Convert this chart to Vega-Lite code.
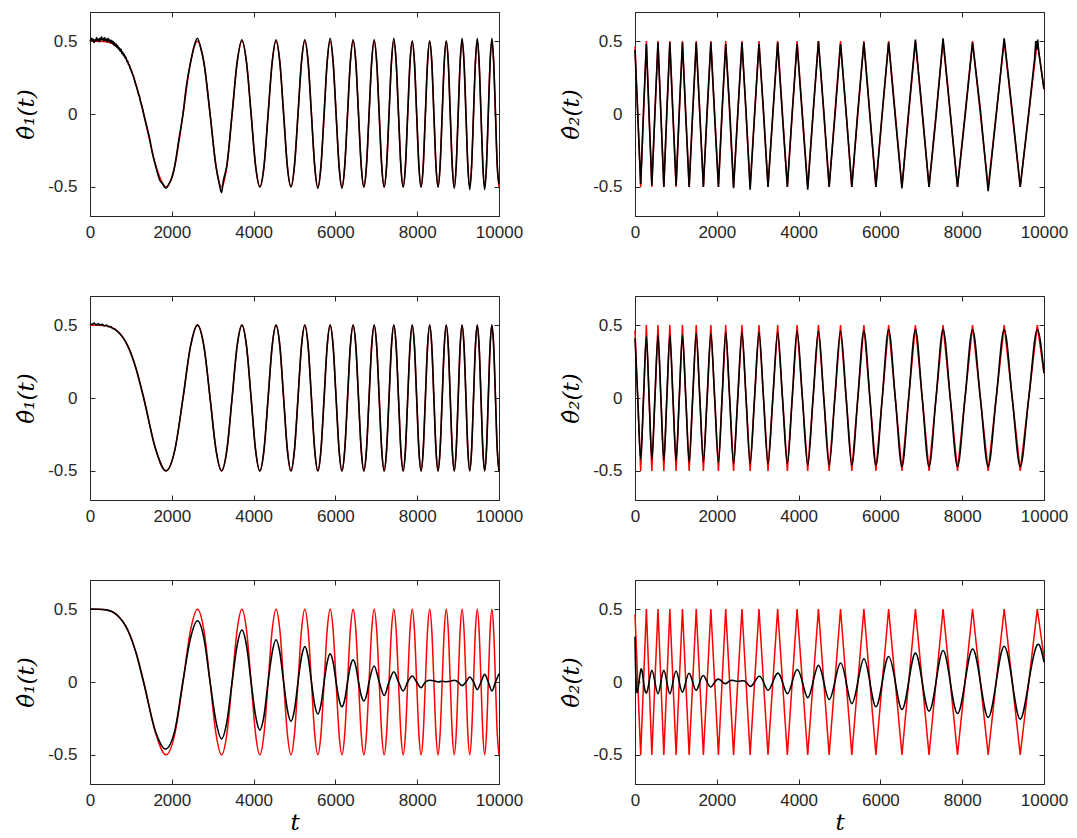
{
  "$schema": "https://vega.github.io/schema/vega-lite/v6.json",
  "background": "white",
  "padding": {"left": 15, "top": 11, "right": 5, "bottom": 5},
  "columns": 2,
  "spacing": {"row": 80, "column": 136},
  "bounds": "flush",
  "config": {
    "view": {"stroke": "#262626", "strokeWidth": 1},
    "axis": {"grid": false, "domainColor": "#262626", "tickColor": "#262626", "labelColor": "#262626", "labelFont": "Liberation Sans", "labelFontSize": 17, "labelFlush": false, "tickSize": -5, "tickWidth": 1, "titleFont": "DejaVu Serif", "titleFontStyle": "italic", "titleFontWeight": "normal", "titleFontSize": 23, "titleColor": "#000000"},
    "axisBottom": {"labelPadding": 13, "titlePadding": 3},
    "axisLeft": {"labelPadding": 18, "titlePadding": 9}
  },
  "datasets": {
    "Lr": [{"t":0,"v":0.5},{"t":200,"v":0.499},{"t":400,"v":0.495},{"t":650,"v":0.463},{"t":929,"v":0.354},{"t":1130,"v":0.198},{"t":1313,"v":0},{"t":1608,"v":-0.354},{"t":1857,"v":-0.5},{"t":2076,"v":-0.354},{"t":2274,"v":0},{"t":2457,"v":0.354},{"t":2626,"v":0.5},{"t":2786,"v":0.354},{"t":2936,"v":0},{"t":3080,"v":-0.354},{"t":3216,"v":-0.5},{"t":3348,"v":-0.354},{"t":3474,"v":0},{"t":3596,"v":0.354},{"t":3714,"v":0.5},{"t":3828,"v":0.354},{"t":3939,"v":0},{"t":4047,"v":-0.354},{"t":4152,"v":-0.5},{"t":4255,"v":-0.354},{"t":4355,"v":0},{"t":4453,"v":0.354},{"t":4549,"v":0.5},{"t":4643,"v":0.354},{"t":4734,"v":0},{"t":4825,"v":-0.354},{"t":4913,"v":-0.5},{"t":5000,"v":-0.354},{"t":5086,"v":0},{"t":5170,"v":0.354},{"t":5252,"v":0.5},{"t":5334,"v":0.354},{"t":5414,"v":0},{"t":5493,"v":-0.354},{"t":5571,"v":-0.5},{"t":5648,"v":-0.354},{"t":5724,"v":0},{"t":5798,"v":0.354},{"t":5872,"v":0.5},{"t":5945,"v":0.354},{"t":6017,"v":0},{"t":6089,"v":-0.354},{"t":6159,"v":-0.5},{"t":6229,"v":-0.354},{"t":6297,"v":0},{"t":6365,"v":0.354},{"t":6433,"v":0.5},{"t":6500,"v":0.354},{"t":6565,"v":0},{"t":6631,"v":-0.354},{"t":6696,"v":-0.5},{"t":6760,"v":-0.354},{"t":6823,"v":0},{"t":6886,"v":0.354},{"t":6948,"v":0.5},{"t":7010,"v":0.354},{"t":7071,"v":0},{"t":7132,"v":-0.354},{"t":7192,"v":-0.5},{"t":7252,"v":-0.354},{"t":7311,"v":0},{"t":7370,"v":0.354},{"t":7428,"v":0.5},{"t":7486,"v":0.354},{"t":7543,"v":0},{"t":7600,"v":-0.354},{"t":7657,"v":-0.5},{"t":7713,"v":-0.354},{"t":7768,"v":0},{"t":7824,"v":0.354},{"t":7879,"v":0.5},{"t":7933,"v":0.354},{"t":7987,"v":0},{"t":8041,"v":-0.354},{"t":8094,"v":-0.5},{"t":8148,"v":-0.354},{"t":8200,"v":0},{"t":8253,"v":0.354},{"t":8305,"v":0.5},{"t":8357,"v":0.354},{"t":8408,"v":0},{"t":8459,"v":-0.354},{"t":8510,"v":-0.5},{"t":8560,"v":-0.354},{"t":8611,"v":0},{"t":8661,"v":0.354},{"t":8710,"v":0.5},{"t":8760,"v":0.354},{"t":8808,"v":0},{"t":8857,"v":-0.354},{"t":8906,"v":-0.5},{"t":8954,"v":-0.354},{"t":9002,"v":0},{"t":9050,"v":0.354},{"t":9097,"v":0.5},{"t":9145,"v":0.354},{"t":9192,"v":0},{"t":9238,"v":-0.354},{"t":9285,"v":-0.5},{"t":9331,"v":-0.354},{"t":9377,"v":0},{"t":9423,"v":0.354},{"t":9469,"v":0.5},{"t":9514,"v":0.354},{"t":9560,"v":0},{"t":9605,"v":-0.354},{"t":9649,"v":-0.5},{"t":9694,"v":-0.354},{"t":9738,"v":0},{"t":9782,"v":0.354},{"t":9826,"v":0.5},{"t":9870,"v":0.354},{"t":9914,"v":0},{"t":9957,"v":-0.354},{"t":10000,"v":-0.5}],
    "L1": [{"t":0,"v":0.51},{"t":20,"v":0.5},{"t":40,"v":0.52},{"t":60,"v":0.505},{"t":80,"v":0.515},{"t":100,"v":0.49},{"t":120,"v":0.51},{"t":140,"v":0.5},{"t":160,"v":0.525},{"t":180,"v":0.505},{"t":200,"v":0.515},{"t":220,"v":0.495},{"t":240,"v":0.52},{"t":260,"v":0.505},{"t":280,"v":0.53},{"t":300,"v":0.51},{"t":320,"v":0.52},{"t":340,"v":0.5},{"t":360,"v":0.525},{"t":380,"v":0.505},{"t":400,"v":0.515},{"t":420,"v":0.495},{"t":440,"v":0.52},{"t":460,"v":0.5},{"t":480,"v":0.51},{"t":500,"v":0.49},{"t":520,"v":0.505},{"t":540,"v":0.485},{"t":560,"v":0.5},{"t":580,"v":0.475},{"t":600,"v":0.49},{"t":620,"v":0.465},{"t":640,"v":0.48},{"t":660,"v":0.455},{"t":680,"v":0.47},{"t":700,"v":0.445},{"t":720,"v":0.455},{"t":740,"v":0.43},{"t":760,"v":0.445},{"t":780,"v":0.415},{"t":800,"v":0.425},{"t":820,"v":0.4},{"t":840,"v":0.41},{"t":860,"v":0.385},{"t":880,"v":0.39},{"t":900,"v":0.36},{"t":920,"v":0.365},{"t":940,"v":0.34},{"t":960,"v":0.335},{"t":980,"v":0.315},{"t":1000,"v":0.305},{"t":1030,"v":0.28},{"t":1060,"v":0.26},{"t":1090,"v":0.23},{"t":1120,"v":0.2},{"t":1150,"v":0.175},{"t":1180,"v":0.14},{"t":1210,"v":0.12},{"t":1240,"v":0.08},{"t":1270,"v":0.055},{"t":1313,"v":0},{"t":1400,"v":-0.1},{"t":1460,"v":-0.17},{"t":1520,"v":-0.26},{"t":1608,"v":-0.36},{"t":1700,"v":-0.45},{"t":1780,"v":-0.48},{"t":1857,"v":-0.51},{"t":1930,"v":-0.48},{"t":2000,"v":-0.44},{"t":2076,"v":-0.35},{"t":2170,"v":-0.18},{"t":2274,"v":0},{"t":2360,"v":0.2},{"t":2457,"v":0.35},{"t":2550,"v":0.47},{"t":2626,"v":0.52},{"t":2700,"v":0.46},{"t":2786,"v":0.35},{"t":2936,"v":0},{"t":3080,"v":-0.36},{"t":3160,"v":-0.48},{"t":3216,"v":-0.54},{"t":3260,"v":-0.46},{"t":3348,"v":-0.35},{"t":3474,"v":0},{"t":3596,"v":0.35},{"t":3714,"v":0.51},{"t":3828,"v":0.35},{"t":3939,"v":0},{"t":4047,"v":-0.35},{"t":4152,"v":-0.5},{"t":4255,"v":-0.36},{"t":4355,"v":0},{"t":4453,"v":0.35},{"t":4549,"v":0.51},{"t":4643,"v":0.35},{"t":4734,"v":0},{"t":4825,"v":-0.36},{"t":4913,"v":-0.5},{"t":5000,"v":-0.35},{"t":5086,"v":0},{"t":5170,"v":0.354},{"t":5252,"v":0.51},{"t":5334,"v":0.354},{"t":5414,"v":0},{"t":5493,"v":-0.354},{"t":5571,"v":-0.51},{"t":5648,"v":-0.354},{"t":5724,"v":0},{"t":5798,"v":0.354},{"t":5872,"v":0.52},{"t":5945,"v":0.354},{"t":6017,"v":0},{"t":6089,"v":-0.354},{"t":6159,"v":-0.51},{"t":6229,"v":-0.354},{"t":6297,"v":0},{"t":6365,"v":0.354},{"t":6433,"v":0.51},{"t":6500,"v":0.354},{"t":6565,"v":0},{"t":6631,"v":-0.354},{"t":6696,"v":-0.5},{"t":6760,"v":-0.354},{"t":6823,"v":0},{"t":6886,"v":0.354},{"t":6948,"v":0.51},{"t":7010,"v":0.354},{"t":7071,"v":0},{"t":7132,"v":-0.354},{"t":7192,"v":-0.5},{"t":7252,"v":-0.354},{"t":7311,"v":0},{"t":7370,"v":0.354},{"t":7428,"v":0.52},{"t":7486,"v":0.354},{"t":7543,"v":0},{"t":7600,"v":-0.354},{"t":7657,"v":-0.5},{"t":7713,"v":-0.354},{"t":7768,"v":0},{"t":7824,"v":0.354},{"t":7879,"v":0.5},{"t":7933,"v":0.354},{"t":7987,"v":0},{"t":8041,"v":-0.354},{"t":8094,"v":-0.5},{"t":8148,"v":-0.354},{"t":8200,"v":0},{"t":8253,"v":0.354},{"t":8305,"v":0.5},{"t":8357,"v":0.354},{"t":8408,"v":0},{"t":8459,"v":-0.354},{"t":8510,"v":-0.5},{"t":8560,"v":-0.354},{"t":8611,"v":0},{"t":8661,"v":0.354},{"t":8710,"v":0.5},{"t":8760,"v":0.354},{"t":8808,"v":0},{"t":8857,"v":-0.354},{"t":8906,"v":-0.51},{"t":8954,"v":-0.354},{"t":9002,"v":0},{"t":9050,"v":0.354},{"t":9097,"v":0.52},{"t":9145,"v":0.354},{"t":9192,"v":0},{"t":9238,"v":-0.354},{"t":9285,"v":-0.52},{"t":9331,"v":-0.354},{"t":9377,"v":0},{"t":9423,"v":0.354},{"t":9469,"v":0.52},{"t":9514,"v":0.354},{"t":9560,"v":0},{"t":9605,"v":-0.354},{"t":9649,"v":-0.52},{"t":9694,"v":-0.354},{"t":9738,"v":0},{"t":9782,"v":0.354},{"t":9826,"v":0.52},{"t":9870,"v":0.354},{"t":9914,"v":0},{"t":9957,"v":-0.354},{"t":10000,"v":-0.48}],
    "L2": [{"t":0,"v":0.51},{"t":50,"v":0.505},{"t":100,"v":0.515},{"t":150,"v":0.5},{"t":200,"v":0.51},{"t":250,"v":0.5},{"t":300,"v":0.505},{"t":350,"v":0.495},{"t":400,"v":0.5},{"t":450,"v":0.49},{"t":500,"v":0.49},{"t":550,"v":0.478},{"t":600,"v":0.474},{"t":650,"v":0.462},{"t":700,"v":0.45},{"t":800,"v":0.418},{"t":929,"v":0.354},{"t":1130,"v":0.198},{"t":1313,"v":0},{"t":1608,"v":-0.354},{"t":1857,"v":-0.5},{"t":2076,"v":-0.354},{"t":2274,"v":0},{"t":2457,"v":0.354},{"t":2626,"v":0.5},{"t":2786,"v":0.354},{"t":2936,"v":0},{"t":3080,"v":-0.354},{"t":3216,"v":-0.5},{"t":3348,"v":-0.354},{"t":3474,"v":0},{"t":3596,"v":0.354},{"t":3714,"v":0.5},{"t":3828,"v":0.354},{"t":3939,"v":0},{"t":4047,"v":-0.354},{"t":4152,"v":-0.5},{"t":4255,"v":-0.354},{"t":4355,"v":0},{"t":4453,"v":0.354},{"t":4549,"v":0.5},{"t":4643,"v":0.354},{"t":4734,"v":0},{"t":4825,"v":-0.354},{"t":4913,"v":-0.5},{"t":5000,"v":-0.354},{"t":5086,"v":0},{"t":5170,"v":0.354},{"t":5252,"v":0.5},{"t":5334,"v":0.354},{"t":5414,"v":0},{"t":5493,"v":-0.354},{"t":5571,"v":-0.5},{"t":5648,"v":-0.354},{"t":5724,"v":0},{"t":5798,"v":0.354},{"t":5872,"v":0.5},{"t":5945,"v":0.354},{"t":6017,"v":0},{"t":6089,"v":-0.354},{"t":6159,"v":-0.5},{"t":6229,"v":-0.354},{"t":6297,"v":0},{"t":6365,"v":0.354},{"t":6433,"v":0.5},{"t":6500,"v":0.354},{"t":6565,"v":0},{"t":6631,"v":-0.354},{"t":6696,"v":-0.5},{"t":6760,"v":-0.354},{"t":6823,"v":0},{"t":6886,"v":0.354},{"t":6948,"v":0.5},{"t":7010,"v":0.354},{"t":7071,"v":0},{"t":7132,"v":-0.354},{"t":7192,"v":-0.5},{"t":7252,"v":-0.354},{"t":7311,"v":0},{"t":7370,"v":0.354},{"t":7428,"v":0.5},{"t":7486,"v":0.354},{"t":7543,"v":0},{"t":7600,"v":-0.354},{"t":7657,"v":-0.5},{"t":7713,"v":-0.354},{"t":7768,"v":0},{"t":7824,"v":0.354},{"t":7879,"v":0.5},{"t":7933,"v":0.354},{"t":7987,"v":0},{"t":8041,"v":-0.354},{"t":8094,"v":-0.5},{"t":8148,"v":-0.354},{"t":8200,"v":0},{"t":8253,"v":0.354},{"t":8305,"v":0.5},{"t":8357,"v":0.354},{"t":8408,"v":0},{"t":8459,"v":-0.354},{"t":8510,"v":-0.5},{"t":8560,"v":-0.354},{"t":8611,"v":0},{"t":8661,"v":0.354},{"t":8710,"v":0.5},{"t":8760,"v":0.354},{"t":8808,"v":0},{"t":8857,"v":-0.354},{"t":8906,"v":-0.5},{"t":8954,"v":-0.354},{"t":9002,"v":0},{"t":9050,"v":0.354},{"t":9097,"v":0.5},{"t":9145,"v":0.354},{"t":9192,"v":0},{"t":9238,"v":-0.354},{"t":9285,"v":-0.5},{"t":9331,"v":-0.354},{"t":9377,"v":0},{"t":9423,"v":0.354},{"t":9469,"v":0.5},{"t":9514,"v":0.354},{"t":9560,"v":0},{"t":9605,"v":-0.354},{"t":9649,"v":-0.5},{"t":9694,"v":-0.354},{"t":9738,"v":0},{"t":9782,"v":0.354},{"t":9826,"v":0.5},{"t":9870,"v":0.354},{"t":9914,"v":0},{"t":9957,"v":-0.354},{"t":10000,"v":-0.5}],
    "L3": [{"t":0,"v":0.5},{"t":200,"v":0.499},{"t":400,"v":0.495},{"t":650,"v":0.462},{"t":929,"v":0.352},{"t":1130,"v":0.195},{"t":1313,"v":-0.005},{"t":1608,"v":-0.345},{"t":1845,"v":-0.46},{"t":2076,"v":-0.33},{"t":2270,"v":0},{"t":2457,"v":0.3},{"t":2626,"v":0.42},{"t":2786,"v":0.3},{"t":2936,"v":0},{"t":3080,"v":-0.27},{"t":3216,"v":-0.39},{"t":3348,"v":-0.27},{"t":3474,"v":0},{"t":3596,"v":0.25},{"t":3714,"v":0.357},{"t":3828,"v":0.25},{"t":3939,"v":0},{"t":4047,"v":-0.23},{"t":4152,"v":-0.33},{"t":4255,"v":-0.23},{"t":4355,"v":0},{"t":4453,"v":0.2},{"t":4549,"v":0.29},{"t":4643,"v":0.2},{"t":4734,"v":0},{"t":4825,"v":-0.19},{"t":4913,"v":-0.27},{"t":5000,"v":-0.19},{"t":5086,"v":0},{"t":5170,"v":0.17},{"t":5252,"v":0.243},{"t":5334,"v":0.17},{"t":5414,"v":0},{"t":5493,"v":-0.155},{"t":5571,"v":-0.22},{"t":5648,"v":-0.155},{"t":5724,"v":0},{"t":5798,"v":0.135},{"t":5872,"v":0.193},{"t":5945,"v":0.135},{"t":6017,"v":0},{"t":6089,"v":-0.12},{"t":6159,"v":-0.17},{"t":6229,"v":-0.12},{"t":6297,"v":0},{"t":6365,"v":0.107},{"t":6433,"v":0.152},{"t":6500,"v":0.107},{"t":6565,"v":0},{"t":6631,"v":-0.092},{"t":6696,"v":-0.13},{"t":6760,"v":-0.092},{"t":6823,"v":0},{"t":6948,"v":0.11},{"t":7071,"v":0},{"t":7192,"v":-0.093},{"t":7311,"v":0},{"t":7428,"v":0.07},{"t":7543,"v":0},{"t":7657,"v":-0.061},{"t":7768,"v":0},{"t":7879,"v":0.041},{"t":7987,"v":0},{"t":8094,"v":-0.039},{"t":8200,"v":0},{"t":8305,"v":0.012},{"t":8408,"v":0.008},{"t":8510,"v":0.0},{"t":8611,"v":0.005},{"t":8710,"v":0.002},{"t":8808,"v":0.005},{"t":8906,"v":0.012},{"t":9002,"v":0},{"t":9097,"v":-0.025},{"t":9192,"v":0},{"t":9285,"v":0.034},{"t":9377,"v":0},{"t":9469,"v":-0.052},{"t":9560,"v":0},{"t":9649,"v":0.052},{"t":9738,"v":0},{"t":9826,"v":-0.061},{"t":9914,"v":0},{"t":10000,"v":0.057}],
    "Rr": [{"t":0,"v":0.464},{"t":139,"v":-0.5},{"t":278,"v":0.5},{"t":412,"v":-0.5},{"t":562,"v":0.5},{"t":705,"v":-0.5},{"t":852,"v":0.5},{"t":1005,"v":-0.5},{"t":1160,"v":0.5},{"t":1324,"v":-0.5},{"t":1497,"v":0.5},{"t":1672,"v":-0.5},{"t":1855,"v":0.5},{"t":2040,"v":-0.5},{"t":2218,"v":0.5},{"t":2410,"v":-0.5},{"t":2615,"v":0.5},{"t":2815,"v":-0.5},{"t":3032,"v":0.5},{"t":3252,"v":-0.5},{"t":3488,"v":0.5},{"t":3725,"v":-0.5},{"t":3963,"v":0.5},{"t":4223,"v":-0.5},{"t":4485,"v":0.5},{"t":4747,"v":-0.5},{"t":5025,"v":0.5},{"t":5301,"v":-0.5},{"t":5596,"v":0.5},{"t":5890,"v":-0.5},{"t":6201,"v":0.5},{"t":6527,"v":-0.5},{"t":6856,"v":0.5},{"t":7189,"v":-0.5},{"t":7532,"v":0.5},{"t":7885,"v":-0.5},{"t":8253,"v":0.5},{"t":8635,"v":-0.5},{"t":9027,"v":0.5},{"t":9419,"v":-0.5},{"t":9836,"v":0.5},{"t":10000,"v":0.17}],
    "R1": [{"t":0,"v":0.44},{"t":67,"v":0},{"t":139,"v":-0.48},{"t":208,"v":0.02},{"t":278,"v":0.48},{"t":345,"v":-0.02},{"t":412,"v":-0.49},{"t":487,"v":0.01},{"t":562,"v":0.49},{"t":633,"v":0},{"t":705,"v":-0.5},{"t":778,"v":0.02},{"t":852,"v":0.49},{"t":928,"v":-0.01},{"t":1005,"v":-0.49},{"t":1082,"v":0.02},{"t":1160,"v":0.49},{"t":1242,"v":-0.02},{"t":1324,"v":-0.5},{"t":1410,"v":0.01},{"t":1497,"v":0.49},{"t":1585,"v":0},{"t":1672,"v":-0.5},{"t":1763,"v":0.02},{"t":1855,"v":0.49},{"t":1948,"v":-0.02},{"t":2040,"v":-0.5},{"t":2129,"v":0.03},{"t":2218,"v":0.48},{"t":2314,"v":0.04},{"t":2410,"v":-0.51},{"t":2512,"v":0},{"t":2615,"v":0.49},{"t":2715,"v":0.02},{"t":2815,"v":-0.52},{"t":2923,"v":-0.01},{"t":3032,"v":0.48},{"t":3142,"v":0.02},{"t":3252,"v":-0.5},{"t":3370,"v":0},{"t":3488,"v":0.49},{"t":3606,"v":-0.02},{"t":3725,"v":-0.5},{"t":3844,"v":0.01},{"t":3963,"v":0.48},{"t":4093,"v":-0.02},{"t":4223,"v":-0.52},{"t":4354,"v":0.01},{"t":4485,"v":0.5},{"t":4616,"v":0.02},{"t":4747,"v":-0.5},{"t":4886,"v":-0.02},{"t":5025,"v":0.48},{"t":5163,"v":0.01},{"t":5301,"v":-0.5},{"t":5448,"v":0.02},{"t":5596,"v":0.49},{"t":5743,"v":-0.01},{"t":5890,"v":-0.5},{"t":6045,"v":0.01},{"t":6201,"v":0.49},{"t":6364,"v":-0.02},{"t":6527,"v":-0.51},{"t":6691,"v":0.02},{"t":6856,"v":0.51},{"t":7022,"v":0.02},{"t":7189,"v":-0.5},{"t":7360,"v":-0.02},{"t":7532,"v":0.52},{"t":7708,"v":0.01},{"t":7885,"v":-0.5},{"t":8069,"v":-0.02},{"t":8253,"v":0.49},{"t":8444,"v":0.03},{"t":8635,"v":-0.53},{"t":8831,"v":-0.01},{"t":9027,"v":0.52},{"t":9223,"v":0.02},{"t":9419,"v":-0.5},{"t":9627,"v":0.01},{"t":9770,"v":0.38},{"t":9800,"v":0.5},{"t":9820,"v":0.44},{"t":9845,"v":0.51},{"t":9870,"v":0.43},{"t":10000,"v":0.17}],
    "R2": [{"t":0,"v":0.41},{"t":67,"v":0},{"t":139,"v":-0.42},{"t":208,"v":0},{"t":278,"v":0.42},{"t":345,"v":0},{"t":412,"v":-0.42},{"t":487,"v":0},{"t":562,"v":0.43},{"t":633,"v":0},{"t":705,"v":-0.43},{"t":778,"v":0},{"t":852,"v":0.43},{"t":928,"v":0},{"t":1005,"v":-0.43},{"t":1082,"v":0},{"t":1160,"v":0.43},{"t":1242,"v":0},{"t":1324,"v":-0.44},{"t":1410,"v":0},{"t":1497,"v":0.44},{"t":1585,"v":0},{"t":1672,"v":-0.44},{"t":1763,"v":0},{"t":1855,"v":0.44},{"t":1948,"v":0},{"t":2040,"v":-0.44},{"t":2129,"v":0},{"t":2218,"v":0.45},{"t":2314,"v":0},{"t":2410,"v":-0.45},{"t":2512,"v":0},{"t":2615,"v":0.45},{"t":2715,"v":0},{"t":2815,"v":-0.45},{"t":2923,"v":0},{"t":3032,"v":0.45},{"t":3142,"v":0},{"t":3252,"v":-0.45},{"t":3370,"v":0},{"t":3488,"v":0.45},{"t":3606,"v":0},{"t":3725,"v":-0.45},{"t":3844,"v":0},{"t":3963,"v":0.46},{"t":4093,"v":0},{"t":4223,"v":-0.46},{"t":4354,"v":0},{"t":4485,"v":0.46},{"t":4616,"v":0},{"t":4747,"v":-0.46},{"t":4886,"v":0},{"t":5025,"v":0.46},{"t":5163,"v":0},{"t":5301,"v":-0.46},{"t":5448,"v":0},{"t":5596,"v":0.46},{"t":5743,"v":0},{"t":5890,"v":-0.46},{"t":6045,"v":0},{"t":6201,"v":0.47},{"t":6364,"v":0},{"t":6527,"v":-0.47},{"t":6691,"v":0},{"t":6856,"v":0.47},{"t":7022,"v":0},{"t":7189,"v":-0.47},{"t":7360,"v":0},{"t":7532,"v":0.47},{"t":7708,"v":0},{"t":7885,"v":-0.47},{"t":8069,"v":0},{"t":8253,"v":0.47},{"t":8444,"v":0},{"t":8635,"v":-0.47},{"t":8831,"v":0},{"t":9027,"v":0.47},{"t":9223,"v":0},{"t":9419,"v":-0.47},{"t":9627,"v":0},{"t":9836,"v":0.47},{"t":10000,"v":0.17}],
    "R3": [{"t":0,"v":0.31},{"t":45,"v":-0.07},{"t":139,"v":0.08},{"t":208,"v":0},{"t":278,"v":-0.075},{"t":345,"v":0},{"t":412,"v":0.08},{"t":487,"v":0},{"t":562,"v":-0.08},{"t":633,"v":0},{"t":705,"v":0.08},{"t":778,"v":0},{"t":852,"v":-0.08},{"t":928,"v":0},{"t":1005,"v":0.075},{"t":1082,"v":0},{"t":1160,"v":-0.07},{"t":1242,"v":0},{"t":1324,"v":0.06},{"t":1410,"v":0},{"t":1497,"v":-0.057},{"t":1585,"v":0},{"t":1672,"v":0.045},{"t":1763,"v":0},{"t":1855,"v":-0.034},{"t":1948,"v":0},{"t":2040,"v":0.02},{"t":2129,"v":0.003},{"t":2218,"v":-0.011},{"t":2314,"v":0.008},{"t":2410,"v":0.01},{"t":2512,"v":0.005},{"t":2615,"v":0.008},{"t":2715,"v":0},{"t":2815,"v":-0.03},{"t":2923,"v":0},{"t":3032,"v":0.039},{"t":3142,"v":0},{"t":3252,"v":-0.057},{"t":3370,"v":0},{"t":3488,"v":0.061},{"t":3606,"v":0},{"t":3725,"v":-0.08},{"t":3844,"v":0},{"t":3963,"v":0.086},{"t":4093,"v":0},{"t":4223,"v":-0.107},{"t":4354,"v":0},{"t":4485,"v":0.114},{"t":4616,"v":0},{"t":4747,"v":-0.12},{"t":4886,"v":0},{"t":5025,"v":0.13},{"t":5163,"v":0},{"t":5301,"v":-0.148},{"t":5448,"v":0},{"t":5596,"v":0.159},{"t":5743,"v":0},{"t":5890,"v":-0.17},{"t":6045,"v":0},{"t":6201,"v":0.175},{"t":6364,"v":0},{"t":6527,"v":-0.189},{"t":6691,"v":0},{"t":6856,"v":0.198},{"t":7022,"v":0},{"t":7189,"v":-0.2},{"t":7360,"v":0},{"t":7532,"v":0.216},{"t":7708,"v":0},{"t":7885,"v":-0.216},{"t":8069,"v":0},{"t":8253,"v":0.227},{"t":8444,"v":0},{"t":8635,"v":-0.243},{"t":8831,"v":0},{"t":9027,"v":0.245},{"t":9223,"v":0},{"t":9419,"v":-0.255},{"t":9627,"v":0},{"t":9836,"v":0.255},{"t":10000,"v":0.136}]
  },
  "concat": [
    {"width": 409, "height": 204, "resolve": {"axis": {"x": "independent", "y": "independent"}}, "layer": [
      {"data": {"name": "Lr"}, "mark": {"type": "line", "color": "#ff0000", "strokeWidth": 1.5, "interpolate": "monotone"},
       "encoding": {"x": {"field": "t", "type": "quantitative", "scale": {"domain": [0, 10000], "nice": false}, "axis": {"orient": "bottom", "values": [0, 2000, 4000, 6000, 8000, 10000], "format": "d", "title": null}},
                    "y": {"field": "v", "type": "quantitative", "scale": {"domain": [-0.7, 0.7], "nice": false}, "axis": {"orient": "left", "values": [-0.5, 0, 0.5], "labelExpr": "datum.value == 0 ? '0' : (datum.value < 0 ? '-' : '') + format(abs(datum.value), '.1f')", "title": "θ̂₁(t)"}}}},
      {"data": {"name": "L1"}, "mark": {"type": "line", "color": "#000000", "strokeWidth": 1.6, "interpolate": "monotone"},
       "encoding": {"x": {"field": "t", "type": "quantitative", "scale": {"domain": [0, 10000], "nice": false}, "axis": {"orient": "top", "values": [0, 2000, 4000, 6000, 8000, 10000], "labels": false, "domain": false, "title": null}},
                    "y": {"field": "v", "type": "quantitative", "scale": {"domain": [-0.7, 0.7], "nice": false}, "axis": {"orient": "right", "values": [-0.5, 0, 0.5], "labels": false, "domain": false, "title": null}}}}
    ]},
    {"width": 409, "height": 204, "resolve": {"axis": {"x": "independent", "y": "independent"}}, "layer": [
      {"data": {"name": "Rr"}, "mark": {"type": "line", "color": "#ff0000", "strokeWidth": 1.5},
       "encoding": {"x": {"field": "t", "type": "quantitative", "scale": {"domain": [0, 10000], "nice": false}, "axis": {"orient": "bottom", "values": [0, 2000, 4000, 6000, 8000, 10000], "format": "d", "title": null}},
                    "y": {"field": "v", "type": "quantitative", "scale": {"domain": [-0.7, 0.7], "nice": false}, "axis": {"orient": "left", "values": [-0.5, 0, 0.5], "labelExpr": "datum.value == 0 ? '0' : (datum.value < 0 ? '-' : '') + format(abs(datum.value), '.1f')", "title": "θ̂₂(t)"}}}},
      {"data": {"name": "R1"}, "mark": {"type": "line", "color": "#000000", "strokeWidth": 1.6},
       "encoding": {"x": {"field": "t", "type": "quantitative", "scale": {"domain": [0, 10000], "nice": false}, "axis": {"orient": "top", "values": [0, 2000, 4000, 6000, 8000, 10000], "labels": false, "domain": false, "title": null}},
                    "y": {"field": "v", "type": "quantitative", "scale": {"domain": [-0.7, 0.7], "nice": false}, "axis": {"orient": "right", "values": [-0.5, 0, 0.5], "labels": false, "domain": false, "title": null}}}}
    ]},
    {"width": 409, "height": 204, "resolve": {"axis": {"x": "independent", "y": "independent"}}, "layer": [
      {"data": {"name": "Lr"}, "mark": {"type": "line", "color": "#ff0000", "strokeWidth": 1.5, "interpolate": "monotone"},
       "encoding": {"x": {"field": "t", "type": "quantitative", "scale": {"domain": [0, 10000], "nice": false}, "axis": {"orient": "bottom", "values": [0, 2000, 4000, 6000, 8000, 10000], "format": "d", "title": null}},
                    "y": {"field": "v", "type": "quantitative", "scale": {"domain": [-0.7, 0.7], "nice": false}, "axis": {"orient": "left", "values": [-0.5, 0, 0.5], "labelExpr": "datum.value == 0 ? '0' : (datum.value < 0 ? '-' : '') + format(abs(datum.value), '.1f')", "title": "θ̂₁(t)"}}}},
      {"data": {"name": "L2"}, "mark": {"type": "line", "color": "#000000", "strokeWidth": 1.6, "interpolate": "monotone"},
       "encoding": {"x": {"field": "t", "type": "quantitative", "scale": {"domain": [0, 10000], "nice": false}, "axis": {"orient": "top", "values": [0, 2000, 4000, 6000, 8000, 10000], "labels": false, "domain": false, "title": null}},
                    "y": {"field": "v", "type": "quantitative", "scale": {"domain": [-0.7, 0.7], "nice": false}, "axis": {"orient": "right", "values": [-0.5, 0, 0.5], "labels": false, "domain": false, "title": null}}}}
    ]},
    {"width": 409, "height": 204, "resolve": {"axis": {"x": "independent", "y": "independent"}}, "layer": [
      {"data": {"name": "Rr"}, "mark": {"type": "line", "color": "#ff0000", "strokeWidth": 1.5},
       "encoding": {"x": {"field": "t", "type": "quantitative", "scale": {"domain": [0, 10000], "nice": false}, "axis": {"orient": "bottom", "values": [0, 2000, 4000, 6000, 8000, 10000], "format": "d", "title": null}},
                    "y": {"field": "v", "type": "quantitative", "scale": {"domain": [-0.7, 0.7], "nice": false}, "axis": {"orient": "left", "values": [-0.5, 0, 0.5], "labelExpr": "datum.value == 0 ? '0' : (datum.value < 0 ? '-' : '') + format(abs(datum.value), '.1f')", "title": "θ̂₂(t)"}}}},
      {"data": {"name": "R2"}, "mark": {"type": "line", "color": "#000000", "strokeWidth": 1.6, "interpolate": "monotone"},
       "encoding": {"x": {"field": "t", "type": "quantitative", "scale": {"domain": [0, 10000], "nice": false}, "axis": {"orient": "top", "values": [0, 2000, 4000, 6000, 8000, 10000], "labels": false, "domain": false, "title": null}},
                    "y": {"field": "v", "type": "quantitative", "scale": {"domain": [-0.7, 0.7], "nice": false}, "axis": {"orient": "right", "values": [-0.5, 0, 0.5], "labels": false, "domain": false, "title": null}}}}
    ]},
    {"width": 409, "height": 204, "resolve": {"axis": {"x": "independent", "y": "independent"}}, "layer": [
      {"data": {"name": "Lr"}, "mark": {"type": "line", "color": "#ff0000", "strokeWidth": 1.5, "interpolate": "monotone"},
       "encoding": {"x": {"field": "t", "type": "quantitative", "scale": {"domain": [0, 10000], "nice": false}, "axis": {"orient": "bottom", "values": [0, 2000, 4000, 6000, 8000, 10000], "format": "d", "title": "t"}},
                    "y": {"field": "v", "type": "quantitative", "scale": {"domain": [-0.7, 0.7], "nice": false}, "axis": {"orient": "left", "values": [-0.5, 0, 0.5], "labelExpr": "datum.value == 0 ? '0' : (datum.value < 0 ? '-' : '') + format(abs(datum.value), '.1f')", "title": "θ̂₁(t)"}}}},
      {"data": {"name": "L3"}, "mark": {"type": "line", "color": "#000000", "strokeWidth": 1.6, "interpolate": "monotone"},
       "encoding": {"x": {"field": "t", "type": "quantitative", "scale": {"domain": [0, 10000], "nice": false}, "axis": {"orient": "top", "values": [0, 2000, 4000, 6000, 8000, 10000], "labels": false, "domain": false, "title": null}},
                    "y": {"field": "v", "type": "quantitative", "scale": {"domain": [-0.7, 0.7], "nice": false}, "axis": {"orient": "right", "values": [-0.5, 0, 0.5], "labels": false, "domain": false, "title": null}}}}
    ]},
    {"width": 409, "height": 204, "resolve": {"axis": {"x": "independent", "y": "independent"}}, "layer": [
      {"data": {"name": "Rr"}, "mark": {"type": "line", "color": "#ff0000", "strokeWidth": 1.5},
       "encoding": {"x": {"field": "t", "type": "quantitative", "scale": {"domain": [0, 10000], "nice": false}, "axis": {"orient": "bottom", "values": [0, 2000, 4000, 6000, 8000, 10000], "format": "d", "title": "t"}},
                    "y": {"field": "v", "type": "quantitative", "scale": {"domain": [-0.7, 0.7], "nice": false}, "axis": {"orient": "left", "values": [-0.5, 0, 0.5], "labelExpr": "datum.value == 0 ? '0' : (datum.value < 0 ? '-' : '') + format(abs(datum.value), '.1f')", "title": "θ̂₂(t)"}}}},
      {"data": {"name": "R3"}, "mark": {"type": "line", "color": "#000000", "strokeWidth": 1.6, "interpolate": "natural"},
       "encoding": {"x": {"field": "t", "type": "quantitative", "scale": {"domain": [0, 10000], "nice": false}, "axis": {"orient": "top", "values": [0, 2000, 4000, 6000, 8000, 10000], "labels": false, "domain": false, "title": null}},
                    "y": {"field": "v", "type": "quantitative", "scale": {"domain": [-0.7, 0.7], "nice": false}, "axis": {"orient": "right", "values": [-0.5, 0, 0.5], "labels": false, "domain": false, "title": null}}}}
    ]}
  ]
}
